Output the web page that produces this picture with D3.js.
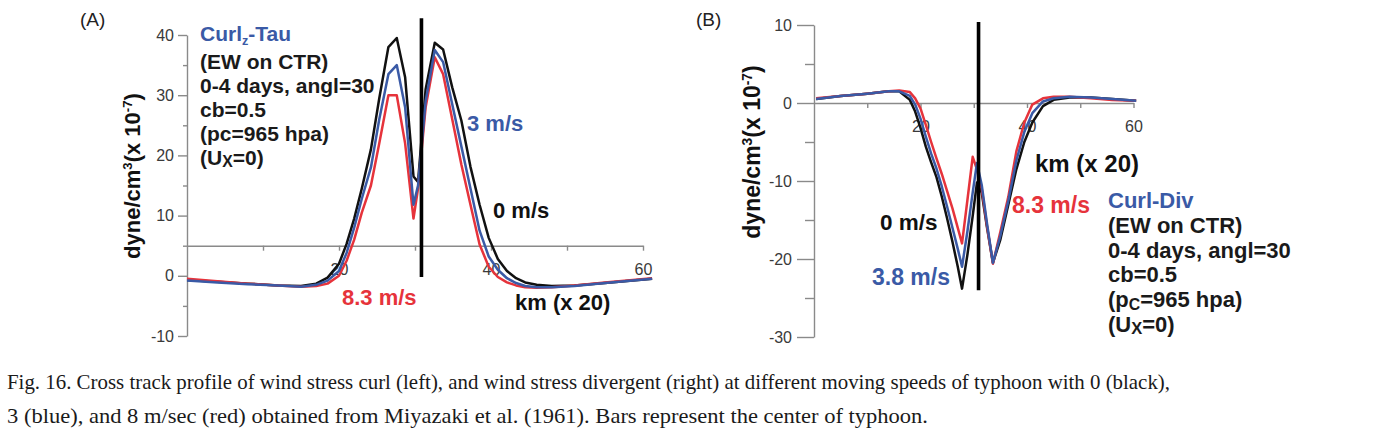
<!DOCTYPE html>
<html><head><meta charset="utf-8">
<script src="https://cdn.jsdelivr.net/npm/d3@7"></script>
<style>body{margin:0;background:#fff} svg{display:block}</style>
</head><body>
<svg id="chart" width="1382" height="446"></svg>
<script>
// ---------- Panel A: wind stress curl ----------
const curlX = [0, 4, 8, 12, 15, 17, 18.5, 20, 21, 22, 23, 24.2, 25.3, 26.5, 27.6, 28.7, 29.8, 30.4, 31.4, 32.6, 33.7, 34.9, 36.1, 37.3, 38.5, 39.7, 40.9, 42.1, 43.3, 44.5, 46, 48, 51, 55, 61.2];
const curlBlack = [-0.7, -1.0, -1.3, -1.6, -1.7, -1.3, -0.3, 2, 5.3, 9.5, 14.5, 21, 29.5, 38, 39.5, 33, 16.5, 15.6, 31, 38.7, 37.6, 31.3, 25.8, 18.1, 11.8, 6.3, 2.8, 0.8, -0.4, -1.1, -1.5, -1.7, -1.6, -1.2, -0.5];
const curlBlue  = [-0.8, -1.1, -1.4, -1.6, -1.8, -1.5, -0.8, 0.8, 3.8, 8, 12.8, 18, 26, 33.5, 35, 28, 11.8, 15, 29, 37.5, 35.5, 28.5, 21.5, 14.5, 7.5, 3.2, 1.0, -0.4, -1.2, -1.7, -1.9, -1.9, -1.7, -1.2, -0.5];
const curlRed   = [-0.5, -0.9, -1.3, -1.6, -1.8, -1.7, -1.3, 0, 2.5, 6, 10.5, 15, 22, 30, 30, 22, 9.5, 14.5, 28, 36.3, 33.5, 26, 18.5, 11.8, 5.2, 1.5, -0.2, -1.1, -1.6, -1.9, -2.0, -1.9, -1.6, -1.1, -0.4];
const centerA = [30.85, -0.2, 42.8];       // x, y from, y to
const yTicksA = [-10, 0, 10, 20, 30, 40];
const yMinorA = [-5, 5, 15, 25, 35];

// ---------- Panel B: wind stress divergence ----------
const divX = [0.4, 5, 10, 14, 16, 18, 19, 20, 21, 22, 23, 24, 25, 26, 27, 27.8, 28.8, 29.8, 30.6, 31.5, 32.5, 33.6, 35, 36.5, 38, 39.5, 41, 43, 45, 48, 52, 56, 60.5];
const divBlack = [0.5, 0.9, 1.2, 1.5, 1.5, 0.4, -1.1, -3.2, -5.6, -7.6, -9.5, -12, -14.8, -17.8, -21, -23.8, -19.5, -14.5, -10.2, -11.5, -16, -20.5, -17.5, -13, -8.5, -5, -2.5, -0.4, 0.4, 0.7, 0.7, 0.5, 0.3];
const divBlue  = [0.5, 0.9, 1.2, 1.5, 1.5, 0.9, -0.2, -2, -4.3, -6.5, -8.4, -10.7, -13.3, -16, -18.7, -21, -16.5, -11.5, -7.7, -10.5, -15.5, -20.5, -17, -12.5, -7.4, -3.7, -1.3, 0.2, 0.6, 0.8, 0.7, 0.5, 0.3];
const divRed   = [0.6, 0.9, 1.2, 1.5, 1.6, 1.4, 0.6, -0.7, -2.8, -5, -7.1, -9.1, -11.3, -13.5, -16, -18, -12.5, -6.9, -8.5, -11, -15.8, -20.6, -16.5, -12, -6.2, -2.5, -0.2, 0.6, 0.8, 0.8, 0.6, 0.4, 0.3];
const centerB = [30.9, -24, 10.4];
const yTicksB = [-30, -20, -10, 0, 10];
const yMinorB = [-25, -15, -5, 5];

const xTicks = [10, 20, 30, 40, 50, 60];
const xLabels = [20, 40, 60];

const COLORS = { black: "#111111", blue: "#3a5aa6", red: "#e6333b" };
const svg = d3.select("#chart");
const SANS = "'Liberation Sans', Arial, sans-serif";

function panel(cfg) {
  const g = svg.append("g");
  const x = d3.scaleLinear().domain([0, 60]).range([cfg.x0, cfg.x60]);
  const y = d3.scaleLinear().domain([cfg.yMin, cfg.yMax]).range([cfg.yBot, cfg.yTop]);

  const ya = g.append("g").attr("transform", `translate(${x(0)},0)`)
    .call(d3.axisLeft(y).tickValues(cfg.yTicks).tickSize(cfg.tickMajor).tickSizeOuter(0)
      .tickPadding(cfg.tickPad).tickFormat(d => String(d)));
  const ym = g.append("g").attr("transform", `translate(${x(0)},0)`)
    .call(d3.axisLeft(y).tickValues(cfg.yMinor).tickSize(cfg.tickMinor).tickFormat(""));
  ym.select(".domain").remove();

  const xa = g.append("g").attr("transform", `translate(0,${y(cfg.xAt)})`)
    .call(d3.axisBottom(x).tickValues(xTicks).tickSize(5).tickSizeOuter(0).tickFormat(""));
  const xl = g.append("g").attr("transform", `translate(0,${y(cfg.xAt)})`)
    .call(d3.axisBottom(x).tickValues(xLabels).tickSize(0).tickPadding(18).tickFormat(d => String(d)));
  xl.select(".domain").remove();

  [ya, ym, xa].forEach(a => {
    a.selectAll(".domain, line").attr("stroke", "#8a8a8a").attr("stroke-width", 1.4);
  });
  [ya, xl].forEach(a => {
    a.selectAll("text").attr("fill", "#3a3a3a").style("font-family", SANS).style("font-size", "16px");
  });

  const line = d3.line().x((d, i) => x(cfg.xs[i])).y(d => y(d));
  [["black", cfg.black], ["red", cfg.red], ["blue", cfg.blue]].forEach(([c, vals]) => {
    g.append("path").datum(vals).attr("d", line)
      .attr("fill", "none").attr("stroke", COLORS[c]).attr("stroke-width", 2.5)
      .attr("stroke-linejoin", "round");
  });

  g.append("line")
    .attr("x1", x(cfg.center[0])).attr("x2", x(cfg.center[0]))
    .attr("y1", y(cfg.center[1])).attr("y2", y(cfg.center[2]))
    .attr("stroke", "#000").attr("stroke-width", 3.6);
  return { g, x, y };
}

panel({ x0: 187, x60: 643, yMin: -10, yMax: 40, yBot: 336, yTop: 35, xAt: 5,
  yTicks: yTicksA, yMinor: yMinorA, tickMajor: 9, tickMinor: 4, tickPad: 4,
  xs: curlX, black: curlBlack, blue: curlBlue, red: curlRed, center: centerA });
panel({ x0: 814, x60: 1133.5, yMin: -30, yMax: 10, yBot: 337, yTop: 25, xAt: 0,
  yTicks: yTicksB, yMinor: yMinorB, tickMajor: 17, tickMinor: 9, tickPad: 5,
  xs: divX, black: divBlack, blue: divBlue, red: divRed, center: centerB });

function txt(x, y, s, size, color, weight) {
  return svg.append("text").attr("x", x).attr("y", y).text(s)
    .attr("fill", color).style("font-family", SANS).style("font-size", size + "px")
    .style("font-weight", weight || "bold");
}
txt(80, 26, "(A)", 19, "#222", "normal");
txt(696, 26, "(B)", 19, "#222", "normal");

function ylabel(cx, cy, size) {
  const t = svg.append("text").attr("transform", `translate(${cx},${cy}) rotate(-90)`)
    .attr("text-anchor", "middle").attr("fill", "#111")
    .style("font-family", SANS).style("font-size", size + "px").style("font-weight", "bold");
  t.append("tspan").text("dyne/cm");
  t.append("tspan").text("3").attr("dy", -8).style("font-size", (size * 0.6) + "px");
  t.append("tspan").text("(x 10").attr("dy", 8);
  t.append("tspan").text("-7").attr("dy", -8).style("font-size", (size * 0.6) + "px");
  t.append("tspan").text(")").attr("dy", 8);
}
ylabel(140, 176, 22);
ylabel(760, 152, 23);

function block(x, ys, size, title, subC) {
  const t0 = txt(x, ys[0], "", size, COLORS.blue);
  title(t0, size);
  const lines = ["(EW on CTR)", "0-4 days, angl=30", "cb=0.5"];
  lines.forEach((s, i) => txt(x, ys[i + 1], s, size, "#1a1a1a"));
  const p = txt(x, ys[4], "(p", size, "#1a1a1a");
  if (subC) {
    p.append("tspan").text("C").attr("dy", 3).style("font-size", (size * 0.72) + "px");
    p.append("tspan").text("=965  hpa)").attr("dy", -3);
  } else {
    p.append("tspan").text("c=965  hpa)");
  }
  const u = txt(x, ys[5], "(U", size, "#1a1a1a");
  u.append("tspan").text("X").attr("dy", 2).style("font-size", (size * 0.75) + "px");
  u.append("tspan").text("=0)").attr("dy", -2);
}
block(200, [41, 69, 93, 117, 141, 165], 21, (t, s) => {
  t.append("tspan").text("Curl");
  t.append("tspan").text("z").attr("dy", 4).style("font-size", (s * 0.6) + "px");
  t.append("tspan").text("-Tau").attr("dy", -4);
}, false);
block(1108, [208, 233, 258, 282, 307, 332], 22, (t) => { t.text("Curl-Div"); }, true);

txt(467, 131, "3 m/s", 22, COLORS.blue);
txt(493, 218, "0 m/s", 22, "#111");
txt(342, 305, "8.3 m/s", 22, COLORS.red);
txt(515, 310, "km (x 20)", 22, "#111");

txt(880, 230, "0 m/s", 22.5, "#111");
txt(872, 285, "3.8 m/s", 23, COLORS.blue);
txt(1012, 213, "8.3 m/s", 23, COLORS.red);
txt(1035, 172, "km (x 20)", 24, "#111");

const SERIF = "'Liberation Serif', 'Times New Roman', serif";
svg.append("text").attr("x", 7).attr("y", 389)
  .attr("textLength", 1163).attr("lengthAdjust", "spacingAndGlyphs")
  .style("font-family", SERIF).style("font-size", "21.5px").attr("fill", "#1a1a1a")
  .text("Fig. 16. Cross track profile of wind stress curl (left), and wind stress divergent (right) at different moving speeds of typhoon with 0 (black),");
svg.append("text").attr("x", 7).attr("y", 423)
  .attr("textLength", 921).attr("lengthAdjust", "spacingAndGlyphs")
  .style("font-family", SERIF).style("font-size", "21.5px").attr("fill", "#1a1a1a")
  .text("3 (blue), and 8 m/sec (red) obtained from Miyazaki et al. (1961). Bars represent the center of typhoon.");
</script>
</body></html>
